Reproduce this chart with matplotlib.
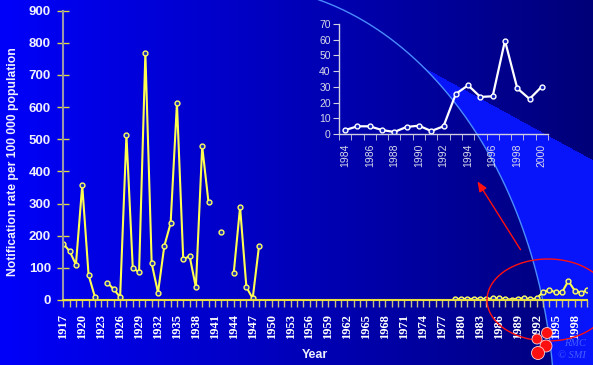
import numpy as np
import matplotlib
matplotlib.use('Agg')
import matplotlib.pyplot as plt
from matplotlib.patches import Ellipse, Circle

# main series, 1917-2000 (nan = no report)
years = np.arange(1917, 2001)
rates = [175, 152, 110, 357, 78, 10, np.nan, 54, 33, 9,
         513, 101, 86, 768, 114, 23, 168, 239, 612, 126,
         137, 40, 478, 304, np.nan, 212, np.nan, 85, 289, 40,
         5, 168] + [np.nan] * 30 + [3, 3, 4, 3, 4,
         2.5, 4.9, 4.9, 2.5, 1.3, 4.5, 5.3, 1.9, 4.9, 25.5,
         31, 23.6, 24, 59.4, 29.1, 22.3, 30.2]
rates = np.array(rates, dtype=float)

# inset series 1984-2000
inset_years = np.arange(1984, 2001)
inset_rates = [2.5, 4.9, 4.9, 2.5, 1.3, 4.5, 5.3, 1.9, 4.9, 25.5,
               31, 23.6, 24, 59.4, 29.1, 22.3, 30.2]

W, H = 593, 365
fig = plt.figure(figsize=(W / 100, H / 100), dpi=100)

# background: horizontal blue gradient + bright wedge right of the arc
xx, yy = np.meshgrid(np.arange(W), np.arange(H))
img = np.zeros((H, W, 3))
img[..., 2] = (250 - 130 * xx / W) / 255
wedge = ((((xx - 240) / 315.0) ** 2 + ((yy - 420) / 434.0) ** 2 > 1)
         & (xx > 240) & (yy > 0.548 * (xx - 301)))
img[wedge] = [8 / 255, 20 / 255, 250 / 255]

bg = fig.add_axes([0, 0, 1, 1], zorder=0)
bg.imshow(img, extent=(0, W, H, 0), aspect='auto', interpolation='bilinear')
t = np.linspace(-0.2, 1.32, 200)
bg.plot(240 + 315 * np.cos(t), 420 - 434 * np.sin(t), color='#4a8cff', lw=1)
bg.set_xlim(0, W)
bg.set_ylim(H, 0)
bg.axis('off')

# main chart
ax = fig.add_axes([63.3 / W, 1 - 300 / H, 524 / W, 289.3 / H], zorder=1)
ax.set_facecolor('none')
ax.plot(years, rates, color='#ffff50', lw=1.5, marker='o', ms=3.5,
        mfc='#2030c0', mec='#ffff60', mew=1)
ax.set_xlim(1917, 2000)
ax.set_ylim(0, 900)
for s in ['top', 'right']:
    ax.spines[s].set_visible(False)
ax.spines['left'].set_color('#9898a8')
ax.spines['left'].set_linewidth(1.5)
ax.spines['bottom'].set_color('#e8e040')
ax.spines['bottom'].set_linewidth(1.5)
ax.set_yticks(np.arange(0, 901, 100))
ax.tick_params(axis='y', direction='inout', length=8, width=1, color='#e0d840',
               labelcolor='#f0f0ff', pad=5)
for lab in ax.get_yticklabels():
    lab.set_fontfamily('Liberation Sans')
    lab.set_fontweight('bold')
    lab.set_fontsize(9.5)
ax.set_xticks(years)
ax.set_xticklabels([str(y) if (y - 1917) % 3 == 0 else '' for y in years],
                   rotation=90, family='Liberation Serif', fontweight='bold',
                   fontsize=9, color='white')
ax.tick_params(axis='x', direction='out', length=5, width=1, color='#c8c080', pad=5)

fig.text(13 / W, 1 - 162 / H, 'Notification rate per 100 000 population',
         rotation=90, ha='center', va='center', color='#f0f0ff',
         family='Liberation Sans', fontweight='bold', fontsize=8.7)
fig.text(315 / W, 1 - 355 / H, 'Year', ha='center', va='center', color='#f0f0ff',
         family='Liberation Sans', fontweight='bold', fontsize=9)

# inset
ins = fig.add_axes([339 / W, 1 - 134 / H, 209 / W, 110 / H], zorder=2)
ins.set_facecolor('none')
ins.plot(inset_years, inset_rates, color='white', lw=1.6, marker='o', ms=3.5,
         mfc='#1020c0', mec='white', mew=1)
ins.set_xlim(1983.5, 2000.5)
ins.set_ylim(0, 70)
for s in ['top', 'right']:
    ins.spines[s].set_visible(False)
for s in ['left', 'bottom']:
    ins.spines[s].set_color('#d0d0e0')
    ins.spines[s].set_linewidth(1)
ins.set_yticks(np.arange(0, 71, 10))
ins.set_xticks(np.arange(1984, 2001, 2))
ins.set_xticks(np.arange(1983.5, 2001, 1), minor=True)
ins.tick_params(axis='y', direction='out', length=4, color='#d0d0e0',
                labelcolor='#d8d8e8', labelsize=7.5, pad=2)
ins.tick_params(axis='x', which='major', length=0, labelcolor='#d8d8e8',
                labelsize=7.5, pad=7, labelrotation=90)
ins.tick_params(axis='x', which='minor', direction='out', length=4, color='#d0d0e0')
for lab in ins.get_xticklabels() + ins.get_yticklabels():
    lab.set_fontfamily('Liberation Sans')

# red annotations on top
ov = fig.add_axes([0, 0, 1, 1], zorder=5)
ov.set_facecolor('none')
ov.set_xlim(0, W)
ov.set_ylim(H, 0)
ov.axis('off')
ov.add_patch(Ellipse((548, 300), 122, 82, fill=False, ec='#ff1010', lw=1))
ov.annotate('', xy=(476, 179), xytext=(522, 252),
            arrowprops=dict(arrowstyle='-|>,head_length=0.6,head_width=0.25',
                            color='#ff1010', lw=1))
for cx, cy, r in [(547, 333, 5.5), (537, 339, 5), (546, 346, 6), (538, 353, 6.5)]:
    ov.add_patch(Circle((cx, cy), r, fc='#ff1010', ec='#ffd0d0', lw=0.6))
ov.text(564, 344, 'RMC', color='#5070ff', fontsize=7.5, family='Liberation Serif',
        style='italic', va='center', ha='left', alpha=0.8)
ov.text(558, 356, '\u00a9 SMI', color='#5070ff', fontsize=7.5, family='Liberation Serif',
        style='italic', va='center', ha='left', alpha=0.8)

fig.savefig('out.png', dpi=100)
